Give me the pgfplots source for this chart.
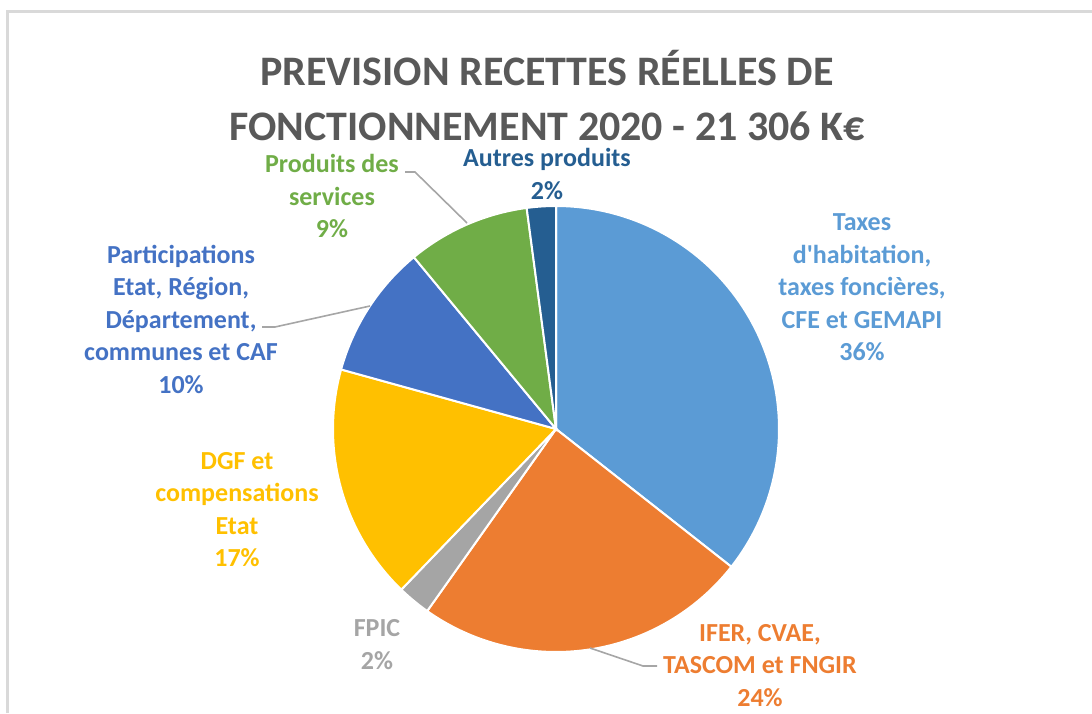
\documentclass[border=0pt]{standalone}
\usepackage{pgfplots}
\pgfplotsset{compat=1.18}
\usepackage{fontspec}
\setmainfont{Carlito}
\definecolor{cTax}{HTML}{5B9BD5}
\definecolor{cIfer}{HTML}{ED7D31}
\definecolor{cFpic}{HTML}{A5A5A5}
\definecolor{cDgf}{HTML}{FFC000}
\definecolor{cPart}{HTML}{4472C4}
\definecolor{cProd}{HTML}{70AD47}
\definecolor{cAutr}{HTML}{255E91}
\definecolor{cTitle}{HTML}{595959}
\definecolor{cFrame}{HTML}{D9D9D9}
\definecolor{cLead}{HTML}{A6A6A6}
% slice shares (percent), clockwise from 12 o'clock
\def\vTax{35.6}
\def\vIfer{24.2}
\def\vFpic{2.4}
\def\vDgf{17.1}
\def\vPart{9.7}
\def\vProd{8.9}
\def\vAutr{2.1}
\begin{document}
\begin{tikzpicture}
\pgfmathsetmacro{\aA}{0}
\pgfmathsetmacro{\aB}{\aA+3.6*\vTax}
\pgfmathsetmacro{\aC}{\aB+3.6*\vIfer}
\pgfmathsetmacro{\aD}{\aC+3.6*\vFpic}
\pgfmathsetmacro{\aE}{\aD+3.6*\vDgf}
\pgfmathsetmacro{\aF}{\aE+3.6*\vPart}
\pgfmathsetmacro{\aG}{\aF+3.6*\vProd}
\pgfmathsetmacro{\aH}{\aG+3.6*\vAutr}
\begin{axis}[name=ax, hide axis, scale only axis, width=546pt, height=356.5pt,
  xmin=0, xmax=1092, ymin=0, ymax=713, clip=false,
  every axis plot/.append style={draw=white, line width=1pt, samples=80, smooth}]
\addplot[fill=cTax, domain=\aA:\aB] ({556+223*sin(x)},{284+223*cos(x)}) -- (axis cs:556,284) -- cycle;
\addplot[fill=cIfer, domain=\aB:\aC] ({556+223*sin(x)},{284+223*cos(x)}) -- (axis cs:556,284) -- cycle;
\addplot[fill=cFpic, domain=\aC:\aD] ({556+223*sin(x)},{284+223*cos(x)}) -- (axis cs:556,284) -- cycle;
\addplot[fill=cDgf, domain=\aD:\aE] ({556+223*sin(x)},{284+223*cos(x)}) -- (axis cs:556,284) -- cycle;
\addplot[fill=cPart, domain=\aE:\aF] ({556+223*sin(x)},{284+223*cos(x)}) -- (axis cs:556,284) -- cycle;
\addplot[fill=cProd, domain=\aF:\aG] ({556+223*sin(x)},{284+223*cos(x)}) -- (axis cs:556,284) -- cycle;
\addplot[fill=cAutr, domain=\aG:\aH] ({556+223*sin(x)},{284+223*cos(x)}) -- (axis cs:556,284) -- cycle;
% frame
\draw[cFrame, line width=1.5pt] (axis cs:7,0) -- (axis cs:7,701) -- (axis cs:1092,701);
% leader lines
\draw[cLead, line width=0.8pt] (axis cs:405,541) -- (axis cs:415,541) -- (axis cs:467,490);
\draw[cLead, line width=0.8pt] (axis cs:262,386) -- (axis cs:275,386) -- (axis cs:370,407);
\draw[cLead, line width=0.8pt] (axis cs:590,65) -- (axis cs:643,47) -- (axis cs:657,47);
% title (two single-line nodes)
\tikzset{ttl/.style={anchor=base, inner sep=0pt, text=cTitle, font=\fontsize{21}{25}\selectfont\bfseries}}
\node[ttl] at (axis cs:547,627) {PREVISION RECETTES RÉELLES DE};
\node[ttl] at (axis cs:547,572) {FONCTIONNEMENT 2020 - 21 306 K€};
% labels
\tikzset{lbl/.style={align=center, inner sep=0.5pt, font=\fontsize{13}{16.25}\selectfont\bfseries}}
\node[lbl, text=cAutr] at (axis cs:547,539) {Autres produits\\2\%};
\node[lbl, text=cProd] at (axis cs:332,517) {Produits des\\services\\9\%};
\node[lbl, text=cPart] at (axis cs:181,394) {Participations\\Etat, Région,\\Département,\\communes et CAF\\10\%};
\node[lbl, text=cTax] at (axis cs:862,425.5) {Taxes\\d\textquotesingle habitation,\\taxes foncières,\\CFE et GEMAPI\\36\%};
\node[lbl, text=cDgf] at (axis cs:237,203.5) {DGF et\\compensations\\Etat\\17\%};
\node[lbl, text=cFpic] at (axis cs:377,68.5) {FPIC\\2\%};
\node[lbl, text=cIfer] at (axis cs:760,47.5) {IFER, CVAE,\\TASCOM et FNGIR\\24\%};
\end{axis}
\pgfresetboundingbox
\path (ax.south west) rectangle (ax.north east);
\end{tikzpicture}
\end{document}
